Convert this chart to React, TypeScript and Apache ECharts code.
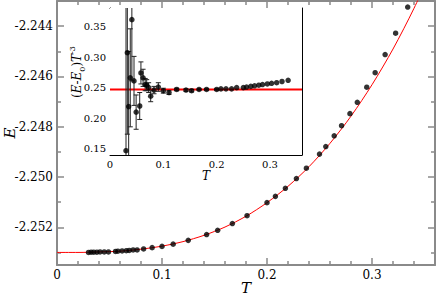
import React, { useEffect, useRef } from 'react';
import * as echarts from 'echarts';

// ---------- data ----------
const T = [0.030, 0.0325, 0.035, 0.038, 0.041, 0.045, 0.049, 0.0557, 0.058, 0.062, 0.066, 0.0688, 0.0725, 0.0763, 0.0825, 0.0906, 0.100, 0.1106, 0.125, 0.1425, 0.153, 0.167, 0.181, 0.200, 0.208, 0.2175, 0.228, 0.2375, 0.250, 0.256, 0.264, 0.271, 0.279, 0.286, 0.295, 0.303, 0.3125, 0.3225, 0.334];

const energy = [-2.25300, -2.25299, -2.25299, -2.25299, -2.25298, -2.25298, -2.25298, -2.25296, -2.25295, -2.25294, -2.25293, -2.25292, -2.25290, -2.25290, -2.25286, -2.25281, -2.25276, -2.25267, -2.25252, -2.25229, -2.25212, -2.25185, -2.25154, -2.25102, -2.25077, -2.25045, -2.25006, -2.24965, -2.24909, -2.24879, -2.24836, -2.24796, -2.24748, -2.24703, -2.24643, -2.24585, -2.24513, -2.24428, -2.24324];

const ratio = [0.147, 0.307, 0.219, 0.266, 0.361, 0.261, 0.210, 0.220, 0.274, 0.266, 0.255, 0.254, 0.250, 0.236, 0.246, 0.251, 0.245, 0.242, 0.247, 0.246, 0.245, 0.247, 0.247, 0.247, 0.248, 0.248, 0.248, 0.250, 0.250, 0.251, 0.252, 0.253, 0.254, 0.255, 0.256, 0.257, 0.258, 0.260, 0.262];

const ratioErr = [0.30, 0.133, 0.09, 0.08, 0.10, 0.04, 0.028, 0.022, 0.018, 0.014, 0.010, 0.009, 0.008, 0.009, 0.006, 0.007, 0.004, 0.003, 0.002, 0.002, 0.002, 0.001, 0.001, 0.001, 0, 0, 0, 0, 0, 0, 0, 0, 0, 0, 0, 0, 0, 0, 0];

// fitted curve (main panel), sampled off the red line
const curveT = [0.00, 0.02, 0.04, 0.06, 0.08, 0.10, 0.12, 0.14, 0.16, 0.18, 0.20, 0.22, 0.24, 0.26, 0.28, 0.30, 0.32, 0.34, 0.36];
const curveE = [-2.25300, -2.25300, -2.25298, -2.25295, -2.25287, -2.25275, -2.25257, -2.25232, -2.25199, -2.25156, -2.25102, -2.25037, -2.24959, -2.24866, -2.24758, -2.24633, -2.24491, -2.24329, -2.24148];

// fitted level (inset)
const fitLevel = 0.247;

// ---------- ticks ----------
const mainXMajor = [0, 0.1, 0.2, 0.3];
const mainXMinor = [0.02, 0.04, 0.06, 0.08, 0.12, 0.14, 0.16, 0.18, 0.22, 0.24, 0.26, 0.28, 0.32, 0.34];
const mainYMajor = [-2.252, -2.250, -2.248, -2.246, -2.244];
const mainYMinor = [-2.253, -2.251, -2.249, -2.247, -2.245, -2.243];
const insetXMajor = [0, 0.1, 0.2, 0.3];
const insetXMinor = [0.02, 0.04, 0.06, 0.08, 0.12, 0.14, 0.16, 0.18, 0.22, 0.24, 0.26, 0.28, 0.32, 0.34];
const insetYMajor = [0.15, 0.20, 0.25, 0.30, 0.35];
const insetYMinor = [0.175, 0.225, 0.275, 0.325, 0.375];

const MAIN_X = [0, 0.36];
const MAIN_Y = [-2.2535, -2.243];
const INSET_X = [0, 0.36];
const INSET_Y = [0.14, 0.38];

const FONT = 'DejaVu Serif';
const GRAY = '#8a8a8a';

type AxOpts = {
  gridIndex: number;
  position: string;
  range: number[];
  ticks: number[];
  len: number;
  color: string;
  width: number;
  tickWidth: number;
  showLine: boolean;
  labels?: number[];
  fmt?: (v: number) => string;
  labelSize?: number;
  labelMargin?: number;
  name?: string;
  nameGap?: number;
  nameSize?: number;
  nameRotate?: number;
};

function mkAxis(o: AxOpts) {
  const a: any = {
    type: 'value',
    gridIndex: o.gridIndex,
    position: o.position,
    min: o.range[0],
    max: o.range[1],
    splitLine: { show: false },
    axisLine: { show: o.showLine, onZero: false, lineStyle: { color: o.color, width: o.width } },
    axisTick: { show: true, inside: true, length: o.len, customValues: o.ticks, lineStyle: { color: o.color, width: o.tickWidth } },
    axisLabel: o.labels
      ? { show: true, customValues: o.labels, formatter: o.fmt, color: '#000', fontFamily: FONT, fontSize: o.labelSize, margin: o.labelMargin }
      : { show: false },
  };
  if (o.name) {
    a.name = o.name;
    a.nameLocation = 'middle';
    a.nameGap = o.nameGap;
    a.nameMoveOverlap = false;
    if (o.nameRotate !== undefined) a.nameRotate = o.nameRotate;
    a.nameTextStyle = { fontFamily: FONT, fontStyle: 'italic', fontSize: o.nameSize, color: '#000' };
  }
  return a;
}

const fmtX = (v: number) => (Math.abs(v) < 1e-9 ? '0' : v.toFixed(1));
const fmtY = (v: number) => v.toFixed(3);
const fmtIY = (v: number) => v.toFixed(2);

function buildOption() {
  const xAxis = [
    // main grid
    mkAxis({ gridIndex: 0, position: 'bottom', range: MAIN_X, ticks: mainXMajor, len: 7, color: GRAY, width: 2, tickWidth: 1.5, showLine: true, labels: mainXMajor, fmt: fmtX, labelSize: 12, labelMargin: 4, name: 'T', nameGap: 15, nameSize: 15 }),
    mkAxis({ gridIndex: 0, position: 'bottom', range: MAIN_X, ticks: mainXMinor, len: 4, color: GRAY, width: 2, tickWidth: 1.5, showLine: false }),
    mkAxis({ gridIndex: 0, position: 'top', range: MAIN_X, ticks: mainXMajor, len: 7, color: GRAY, width: 2, tickWidth: 1.5, showLine: true }),
    mkAxis({ gridIndex: 0, position: 'top', range: MAIN_X, ticks: mainXMinor, len: 4, color: GRAY, width: 2, tickWidth: 1.5, showLine: false }),
    // inset grid
    mkAxis({ gridIndex: 1, position: 'bottom', range: INSET_X, ticks: insetXMajor, len: 5, color: '#000', width: 1, tickWidth: 1, showLine: true, labels: insetXMajor, fmt: fmtX, labelSize: 10, labelMargin: 4, name: 'T', nameGap: 15, nameSize: 12 }),
    mkAxis({ gridIndex: 1, position: 'bottom', range: INSET_X, ticks: insetXMinor, len: 3, color: '#000', width: 1, tickWidth: 1, showLine: false }),
    mkAxis({ gridIndex: 1, position: 'top', range: INSET_X, ticks: insetXMajor, len: 5, color: '#000', width: 1, tickWidth: 1, showLine: true }),
    mkAxis({ gridIndex: 1, position: 'top', range: INSET_X, ticks: insetXMinor, len: 3, color: '#000', width: 1, tickWidth: 1, showLine: false }),
  ];
  const yAxis = [
    mkAxis({ gridIndex: 0, position: 'left', range: MAIN_Y, ticks: mainYMajor, len: 7, color: GRAY, width: 2, tickWidth: 1.5, showLine: true, labels: mainYMajor, fmt: fmtY, labelSize: 12, labelMargin: 4, name: 'E', nameGap: 40, nameSize: 15, nameRotate: 90 }),
    mkAxis({ gridIndex: 0, position: 'left', range: MAIN_Y, ticks: mainYMinor, len: 4, color: GRAY, width: 2, tickWidth: 1.5, showLine: false }),
    mkAxis({ gridIndex: 0, position: 'right', range: MAIN_Y, ticks: mainYMajor, len: 7, color: GRAY, width: 2, tickWidth: 1.5, showLine: true }),
    mkAxis({ gridIndex: 0, position: 'right', range: MAIN_Y, ticks: mainYMinor, len: 4, color: GRAY, width: 2, tickWidth: 1.5, showLine: false }),
    mkAxis({ gridIndex: 1, position: 'left', range: INSET_Y, ticks: insetYMajor, len: 5, color: '#000', width: 1, tickWidth: 1, showLine: true, labels: insetYMajor, fmt: fmtIY, labelSize: 10, labelMargin: 4 }),
    mkAxis({ gridIndex: 1, position: 'left', range: INSET_Y, ticks: insetYMinor, len: 3, color: '#000', width: 1, tickWidth: 1, showLine: false }),
    mkAxis({ gridIndex: 1, position: 'right', range: INSET_Y, ticks: insetYMajor, len: 5, color: '#000', width: 1, tickWidth: 1, showLine: true }),
    mkAxis({ gridIndex: 1, position: 'right', range: INSET_Y, ticks: insetYMinor, len: 3, color: '#000', width: 1, tickWidth: 1, showLine: false }),
  ];

  const errData = T.map((t, i) => [t, ratio[i], ratioErr[i]]);

  return {
    animation: false,
    backgroundColor: '#fff',
    textStyle: { fontFamily: FONT },
    grid: [
      { left: 57, right: 1, top: 1, bottom: 30, show: false, containLabel: false, outerBoundsMode: 'none' },
      { left: 110, right: 134, top: 8, bottom: 140, show: true, backgroundColor: '#fff', borderWidth: 0, z: 3, containLabel: false, outerBoundsMode: 'none' },
    ],
    xAxis,
    yAxis,
    graphic: [
      {
        type: 'text',
        x: 77,
        y: 72,
        rotation: Math.PI / 2,
        z: 100,
        style: {
          text: '{p|(}{i|E}{p|-}{i|E}{sub|0}{p|)}{i|T}{sup|-3}',
          align: 'center',
          verticalAlign: 'middle',
          fill: '#000',
          rich: {
            p: { fontFamily: FONT, fontSize: 12, lineHeight: 18, verticalAlign: 'middle', fill: '#000' },
            i: { fontFamily: FONT, fontSize: 12, fontStyle: 'italic', lineHeight: 18, verticalAlign: 'middle', fill: '#000' },
            sub: { fontFamily: FONT, fontSize: 8, lineHeight: 9, verticalAlign: 'bottom', fill: '#000' },
            sup: { fontFamily: FONT, fontSize: 8, lineHeight: 9, verticalAlign: 'top', fill: '#000' },
          },
        },
      },
    ],
    series: [
      {
        type: 'line',
        xAxisIndex: 0,
        yAxisIndex: 0,
        data: curveT.map((t, i) => [t, curveE[i]]),
        smooth: 0.3,
        showSymbol: false,
        symbol: 'none',
        clip: true,
        lineStyle: { color: '#ff0000', width: 1 },
        z: 2,
      },
      {
        type: 'scatter',
        xAxisIndex: 0,
        yAxisIndex: 0,
        data: T.map((t, i) => [t, energy[i]]),
        symbol: 'circle',
        symbolSize: 5.5,
        itemStyle: { color: '#000' },
        z: 3,
      },
      {
        type: 'line',
        xAxisIndex: 4,
        yAxisIndex: 4,
        data: [[INSET_X[0], fitLevel], [INSET_X[1], fitLevel]],
        showSymbol: false,
        symbol: 'none',
        lineStyle: { color: '#ff0000', width: 2 },
        z: 5,
      },
      {
        type: 'custom',
        xAxisIndex: 4,
        yAxisIndex: 4,
        data: errData,
        encode: { x: 0, y: 1 },
        clip: true,
        z: 6,
        renderItem: (params: any, api: any) => {
          const x = api.value(0);
          const y = api.value(1);
          const e = api.value(2);
          if (!e) return null;
          const top = y + e;
          const bot = y - e;
          const pHi = api.coord([x, Math.min(top, INSET_Y[1])]);
          const pLo = api.coord([x, Math.max(bot, INSET_Y[0])]);
          const st = { stroke: '#222', lineWidth: 1 };
          const children: any[] = [
            { type: 'line', shape: { x1: pHi[0], y1: pHi[1], x2: pLo[0], y2: pLo[1] }, style: st },
          ];
          const cw = 2.5;
          if (top <= INSET_Y[1]) children.push({ type: 'line', shape: { x1: pHi[0] - cw, y1: pHi[1], x2: pHi[0] + cw, y2: pHi[1] }, style: st });
          if (bot >= INSET_Y[0]) children.push({ type: 'line', shape: { x1: pLo[0] - cw, y1: pLo[1], x2: pLo[0] + cw, y2: pLo[1] }, style: st });
          return { type: 'group', children };
        },
      },
      {
        type: 'scatter',
        xAxisIndex: 4,
        yAxisIndex: 4,
        data: T.map((t, i) => [t, ratio[i]]),
        symbol: 'circle',
        symbolSize: 5.5,
        itemStyle: { color: '#000' },
        z: 7,
      },
    ],
  };
}

export default function App() {
  const ref = useRef<HTMLDivElement>(null);
  useEffect(() => {
    if (!ref.current) return;
    const chart = echarts.init(ref.current, null, { renderer: 'svg' });
    chart.setOption(buildOption() as any);
    return () => chart.dispose();
  }, []);
  return <div ref={ref} style={{ position: 'absolute', left: 0, top: 0, width: 436, height: 295 }} />;
}
